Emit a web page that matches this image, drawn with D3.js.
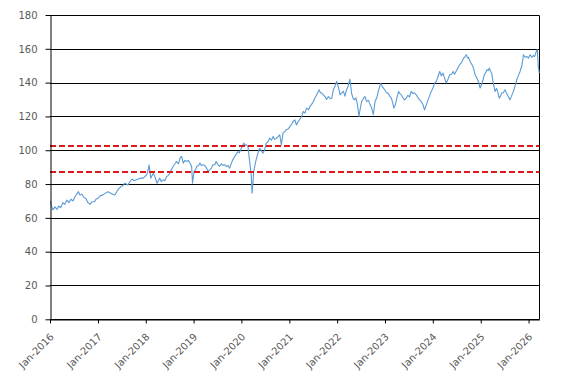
<!DOCTYPE html>
<html>
<head>
<meta charset="utf-8">
<script src="https://cdn.jsdelivr.net/npm/d3@7"></script>
<style>
  html, body { margin: 0; padding: 0; background: #fff; }
  svg { display: block; }
</style>
</head>
<body>
<svg id="chart" width="567" height="382"></svg>
<script>
// ---- data ----
const dates = [
  "2016-01-04","2016-01-12","2016-01-23","2016-02-08","2016-02-23","2016-03-08","2016-03-23","2016-04-08","2016-04-23","2016-05-09","2016-05-24","2016-06-09","2016-06-24","2016-07-09","2016-07-24","2016-08-05","2016-08-16","2016-09-01","2016-09-16","2016-10-01","2016-10-16","2016-11-01","2016-11-16","2016-12-07","2016-12-17",
  "2017-01-02","2017-01-17","2017-02-09","2017-02-24","2017-03-17","2017-04-10","2017-04-25","2017-05-10","2017-06-02","2017-06-25","2017-07-10","2017-07-25","2017-08-18","2017-09-03","2017-09-18","2017-10-03","2017-10-23","2017-11-18","2017-12-13","2017-12-26",
  "2018-01-08","2018-01-18","2018-01-26","2018-02-08","2018-02-18","2018-02-28","2018-03-11","2018-03-28","2018-04-07","2018-04-18","2018-04-29","2018-05-13","2018-05-26","2018-06-09","2018-06-19","2018-07-04","2018-07-15","2018-07-29","2018-08-12","2018-08-24","2018-09-08","2018-09-19","2018-10-02","2018-10-14","2018-10-27","2018-11-10","2018-11-23","2018-12-04","2018-12-17","2018-12-24",
  "2019-01-04","2019-01-16","2019-01-25","2019-02-08","2019-02-19","2019-03-01","2019-03-15","2019-03-28","2019-04-10","2019-04-22","2019-05-05","2019-05-18","2019-05-28","2019-06-12","2019-06-22","2019-07-05","2019-07-18","2019-08-01","2019-08-13","2019-08-24","2019-09-08","2019-09-21","2019-10-03","2019-10-13","2019-10-25","2019-11-11","2019-11-25","2019-12-06","2019-12-17","2019-12-31",
  "2020-01-19","2020-01-29","2020-02-08","2020-02-20","2020-03-04","2020-03-16","2020-03-23","2020-04-04","2020-04-19","2020-05-06","2020-05-19","2020-06-02","2020-06-14","2020-06-26","2020-07-09","2020-07-22","2020-08-04","2020-08-18","2020-08-30","2020-09-10","2020-09-24","2020-10-07","2020-10-20","2020-11-01","2020-11-14","2020-11-27","2020-12-09","2020-12-22",
  "2021-01-05","2021-01-19","2021-01-30","2021-02-12","2021-02-24","2021-03-10","2021-03-23","2021-04-05","2021-04-17","2021-04-30","2021-05-13","2021-05-27","2021-06-08","2021-06-19","2021-07-03","2021-07-16","2021-07-29","2021-08-16","2021-08-27","2021-09-06","2021-09-20","2021-10-01","2021-10-12","2021-10-26","2021-11-08","2021-11-21","2021-12-03","2021-12-16","2021-12-29",
  "2022-01-11","2022-01-24","2022-02-05","2022-02-18","2022-03-01","2022-03-14","2022-03-26","2022-04-08","2022-04-21","2022-05-01","2022-05-11","2022-05-24","2022-06-05","2022-06-16","2022-06-27","2022-07-07","2022-07-20","2022-08-01","2022-08-14","2022-08-28","2022-09-09","2022-09-22","2022-10-04","2022-10-17","2022-10-30","2022-11-11","2022-11-30","2022-12-13","2022-12-30",
  "2023-01-13","2023-01-25","2023-02-06","2023-02-19","2023-03-01","2023-03-10","2023-03-21","2023-04-02","2023-04-15","2023-04-25","2023-05-05","2023-05-18","2023-05-31","2023-06-14","2023-06-25","2023-07-07","2023-07-20","2023-08-03","2023-08-14","2023-08-28","2023-09-10","2023-09-23","2023-10-07","2023-10-18","2023-10-30","2023-11-14","2023-11-25","2023-12-07","2023-12-20",
  "2024-01-03","2024-01-16","2024-01-30","2024-02-10","2024-02-23","2024-03-06","2024-03-19","2024-03-30","2024-04-13","2024-04-26","2024-05-09","2024-05-23","2024-06-04","2024-06-15","2024-06-29","2024-07-12","2024-07-24","2024-08-04","2024-08-12","2024-08-22","2024-08-31","2024-09-12","2024-09-23","2024-09-30","2024-10-12","2024-10-23","2024-11-02","2024-11-12","2024-11-19","2024-11-30","2024-12-14","2024-12-27",
  "2025-01-10","2025-01-20","2025-01-28","2025-02-08","2025-02-17","2025-02-27","2025-03-07","2025-03-16","2025-03-25","2025-04-07","2025-04-20","2025-05-01","2025-05-09","2025-05-22","2025-06-01","2025-06-10","2025-06-22","2025-07-05","2025-07-18","2025-07-30","2025-08-12","2025-08-24","2025-09-07","2025-09-20","2025-10-03","2025-10-15","2025-10-28","2025-11-11","2025-11-23","2025-12-06","2025-12-18","2025-12-31",
  "2026-01-13","2026-01-25","2026-02-06","2026-02-17","2026-03-01","2026-03-09","2026-03-16","2026-03-24"
];
const values = [
  70,67,64.7,66.5,65,67,66,69,68,70.5,69,71,70,72.5,74,75.5,73.5,74,72,71.5,69,68,69.5,69.6,71,
  71.6,73,73.6,74.5,75.5,74.6,73.8,73.6,76.5,78.5,79,80.5,79.5,81.5,83,82,82.5,83.5,83.5,84.5,
  85.4,88,91.4,83.5,85,86.4,84.4,80.5,82,83.5,81.5,82.5,82,84.4,85,86.4,88.5,90.4,92,93.3,92,95.3,96.3,92.4,94,93.3,94,92.4,90.4,80.5,
  87.4,88.5,90.4,91,92.4,91,91.4,91,89.4,87.4,88.5,89.4,91.4,91.4,93.3,91.5,90.4,92,91,91.5,90.4,91,89.4,91.5,94,96.3,98,99.2,98.5,101.2,
  104.2,103,103.2,102.2,93.3,85.4,74.6,87.4,93.3,98.3,101.2,99.5,98.3,100.2,104.2,105,107.2,106,108.1,106.5,107,108,109.1,103.2,110.1,111,112.1,112.5,
  114,115.5,117,118,115,117,118.5,120,122.9,122,124.9,124,125.9,127,128.8,131,132.8,135.8,134,133.8,132.5,131.8,130,131.8,130.5,130.8,135.8,138,140.7,
  137,132.8,134,134.8,132,135.8,138,142,133.8,131,129.8,131,127,120,125,128.8,130.5,131.8,128.8,129.5,127,124.9,121,128.8,131,134.8,139.7,137.5,135.8,
  134,133.8,132,130.8,128,124.9,127,131,134.8,133.5,132.8,131,129.8,131,132.5,131.5,134.8,133.5,134,132.8,131,129.8,128.5,126.9,123.9,127,129.8,132,134.8,
  137,139.7,141,143.6,146.6,144,145.6,143,139.7,142,144.6,145,146.6,145,147,149,150.6,151.5,152.5,154.5,155,156.5,154.5,155,152.5,151,149.6,147,144.6,143,140.7,136.8,
  139.5,142,144.6,146,147.6,147,148.6,147,145.6,139.7,134.8,136.5,135,130.8,132,133.8,134,135.8,133.5,131.8,129.8,132,134.8,138,141.7,144,146.6,150,156.5,155,155.5,154.5,
  156.5,155,156,155.5,158.5,159.5,149.6,145.6
];
const levels = [102.5, 87.2];
const yTicks = [0, 20, 40, 60, 80, 100, 120, 140, 160, 180];
const xTickYears = [2016, 2017, 2018, 2019, 2020, 2021, 2022, 2023, 2024, 2025, 2026];
const domainStart = "2016-01-01";
const domainEnd = "2026-03-24";

// ---- drawing ----
(function () {
  const parse = d3.timeParse("%Y-%m-%d");
  const data = dates.map((d, i) => ({ date: parse(d), value: values[i] }));

  const pLeft = 50, pRight = 539.3, pTop = 15, pBottom = 319.3;
  const svg = d3.select("#chart");

  const x = d3.scaleTime()
    .domain([parse(domainStart), parse(domainEnd)])
    .range([pLeft, pRight]);
  const y = d3.scaleLinear().domain([0, 180]).range([pBottom, pTop]);

  const font = "'DejaVu Sans', Verdana, sans-serif";

  // gridlines
  svg.append("g").selectAll("line").data(yTicks).join("line")
    .attr("x1", pLeft).attr("x2", pRight)
    .attr("y1", d => Math.round(y(d)) + 0.5).attr("y2", d => Math.round(y(d)) + 0.5)
    .attr("stroke", "#000").attr("stroke-width", 1);

  // right border
  svg.append("line")
    .attr("x1", Math.round(pRight) + 0.5).attr("x2", Math.round(pRight) + 0.5)
    .attr("y1", Math.round(pTop) + 0.5).attr("y2", Math.round(pBottom) + 0.5)
    .attr("stroke", "#000").attr("stroke-width", 1);

  // price line
  svg.append("path")
    .datum(data)
    .attr("fill", "none")
    .attr("stroke", "#5b9bd5")
    .attr("stroke-width", 1.1)
    .attr("stroke-linejoin", "round")
    .attr("d", d3.line().x(d => x(d.date)).y(d => y(d.value)));

  // red dashed levels
  svg.append("g").selectAll("line").data(levels).join("line")
    .attr("x1", pLeft).attr("x2", pRight)
    .attr("y1", d => y(d)).attr("y2", d => y(d))
    .attr("stroke", "#e0181b").attr("stroke-width", 2)
    .attr("stroke-dasharray", "6,3");

  // y axis
  const yAxis = svg.append("g")
    .attr("transform", `translate(${pLeft + 0.5},0)`)
    .call(d3.axisLeft(y).tickValues(yTicks).tickSize(5).tickSizeOuter(0).tickPadding(8));
  yAxis.select(".domain").attr("stroke", "#000");
  yAxis.selectAll(".tick line").attr("stroke", "#000");
  yAxis.selectAll(".tick text")
    .attr("fill", "#595959")
    .style("font-family", font)
    .style("font-size", "10px");

  // x axis
  const xTicks = xTickYears.map(yr => new Date(yr, 0, 1));
  const xAxis = svg.append("g")
    .attr("transform", `translate(0,${Math.round(pBottom) + 0.5})`)
    .call(d3.axisBottom(x).tickValues(xTicks).tickFormat(d3.timeFormat("%b-%Y")).tickSize(4).tickSizeOuter(0));
  xAxis.select(".domain").attr("stroke", "#000");
  xAxis.selectAll(".tick line").attr("stroke", "#000");
  xAxis.selectAll(".tick text")
    .attr("fill", "#595959")
    .style("font-family", font)
    .style("font-size", "10px")
    .attr("text-anchor", "end")
    .attr("dy", null)
    .attr("y", null)
    .attr("transform", "translate(4,18) rotate(-45)");
})();
</script>
</body>
</html>
